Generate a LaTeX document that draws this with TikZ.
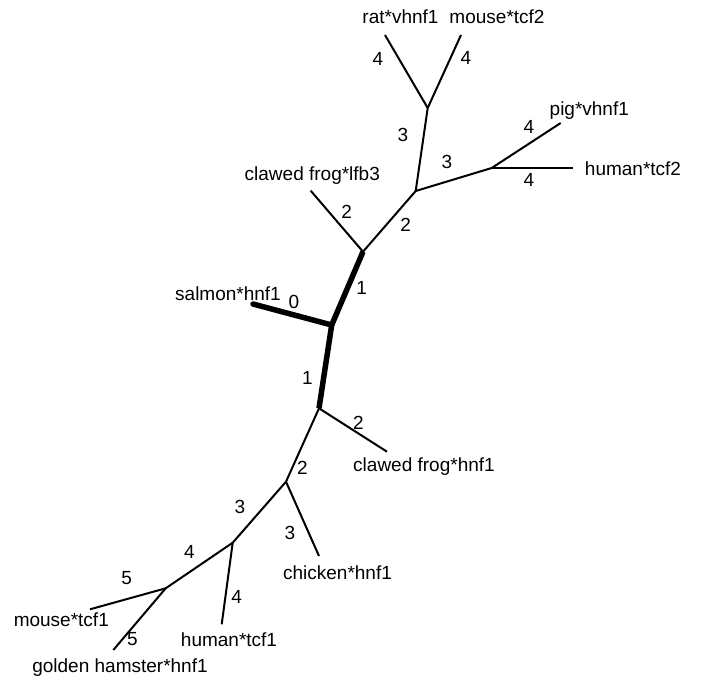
\documentclass[tikz,border=0pt]{standalone}
\usepackage{fontspec}
\setmainfont{Liberation Sans}
\begin{document}
\begin{tikzpicture}[x=1pt,y=-1pt,
  branch/.style={line width=2pt},
  trunk/.style={line width=5.5pt,line cap=round},
  taxon/.style={inner sep=0pt,anchor=base,font=\fontsize{19}{22}\selectfont},
  num/.style={inner sep=0pt,anchor=center,font=\fontsize{19}{22}\selectfont}]
\useasboundingbox (0,0) rectangle (701,677);

% internal junctions
\coordinate (A) at (427.7,108);
\coordinate (B) at (415.7,191);
\coordinate (C) at (491.7,168);
\coordinate (D) at (363,251.7);
\coordinate (E) at (331.7,325);
\coordinate (F) at (319,408.3);
\coordinate (G) at (286,481.7);
\coordinate (H) at (232.7,542.7);
\coordinate (I) at (165.7,588.3);

% leaf tips
\coordinate (ratT) at (385,35);
\coordinate (mouse2T) at (461,35);
\coordinate (pigT) at (560.7,123);
\coordinate (human2T) at (572.7,168);
\coordinate (lfbT) at (310.7,190.7);
\coordinate (salmonT) at (253,304);
\coordinate (frogT) at (387,451.7);
\coordinate (chickenT) at (319,556);
\coordinate (human1T) at (221.7,624.3);
\coordinate (mouse1T) at (90,609.3);
\coordinate (hamsterT) at (113.3,650);

% branches
\draw[branch] (ratT) -- (A);
\draw[branch] (mouse2T) -- (A);
\draw[branch] (A) -- (B);
\draw[branch] (B) -- (C);
\draw[branch] (C) -- (pigT);
\draw[branch] (C) -- (human2T);
\draw[branch] (B) -- (D);
\draw[branch] (lfbT) -- (D);
\draw[branch] (F) -- (frogT);
\draw[branch] (F) -- (G);
\draw[branch] (G) -- (chickenT);
\draw[branch] (G) -- (H);
\draw[branch] (H) -- (human1T);
\draw[branch] (H) -- (I);
\draw[branch] (I) -- (mouse1T);
\draw[branch] (I) -- (hamsterT);
% highlighted path
\draw[trunk] (salmonT) -- (E);
\draw[trunk,line cap=butt] (D) -- (E) -- (F);

% taxon names
\node[taxon] (rat) at (400.5,24) {rat*vhnf1};
\node[taxon] (mouse2) at (497,24) {mouse*tcf2};
\node[taxon] (pig) at (589.3,115) {pig*vhnf1};
\node[taxon] (human2) at (633,175) {human*tcf2};
\node[taxon] (lfb) at (312.3,180) {clawed frog*lfb3};
\node[taxon] (salmon) at (228,300) {salmon*hnf1};
\node[taxon] (frog) at (424,471) {clawed frog*hnf1};
\node[taxon] (chicken) at (337.5,579.3) {chicken*hnf1};
\node[taxon] (mouse1) at (61.3,626) {mouse*tcf1};
\node[taxon] (human1) at (229,646.5) {human*tcf1};
\node[taxon] (hamster) at (120,672) {golden hamster*hnf1};

% branch numbers
\node[num] (nRat) at (378,59) {4};
\node[num] (nMouse2) at (466,58) {4};
\node[num] (nAB) at (403,135) {3};
\node[num] (nBC) at (447,162) {3};
\node[num] (nPig) at (529,127) {4};
\node[num] (nHuman2) at (529,180) {4};
\node[num] (nLfb) at (346.7,211.7) {2};
\node[num] (nDB) at (405.7,225) {2};
\node[num] (nED) at (361.7,288) {1};
\node[num] (nSalmon) at (294,301.7) {0};
\node[num] (nEF) at (307.3,378) {1};
\node[num] (nFrog) at (358.3,423.3) {2};
\node[num] (nFG) at (302.3,468.3) {2};
\node[num] (nGH) at (240,506.7) {3};
\node[num] (nChicken) at (290,532.7) {3};
\node[num] (nHI) at (189.3,552.3) {4};
\node[num] (nHuman1) at (236.7,596.7) {4};
\node[num] (nMouse1) at (126.7,578.3) {5};
\node[num] (nHamster) at (132.3,639.3) {5};
\end{tikzpicture}
\end{document}
